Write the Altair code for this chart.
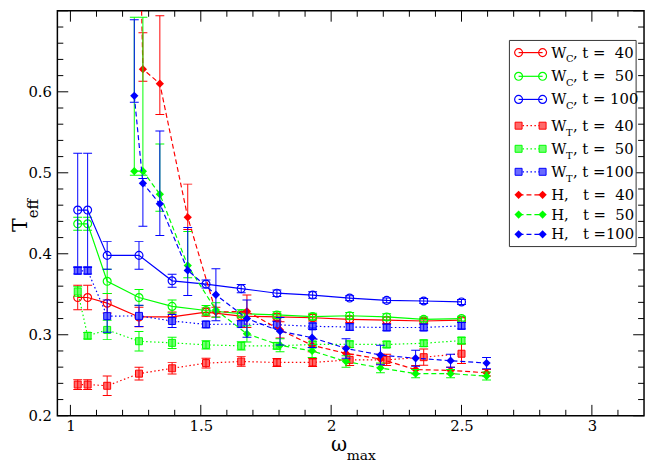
import altair as alt
import pandas as pd

# ---------------- data ----------------
omega_W = [1.028, 1.066, 1.141, 1.263, 1.390, 1.520, 1.655, 1.792, 1.929, 2.071, 2.213, 2.355, 2.500]
omega_H = [1.245, 1.278, 1.343, 1.450, 1.558, 1.677, 1.804, 1.927, 2.057, 2.189, 2.324, 2.458, 2.596]

WC_40 = [0.346, 0.346, 0.339, 0.322, 0.322, 0.328, 0.323, 0.322, 0.321, 0.319, 0.318, 0.317, 0.318]
WC_40_err = [0.015, 0.015, 0.012, 0.012, 0.006, 0.005, 0.005, 0.004, 0.004, 0.004, 0.004, 0.003, 0.003]
WC_50 = [0.437, 0.437, 0.366, 0.346, 0.335, 0.330, 0.326, 0.3245, 0.3225, 0.3235, 0.322, 0.319, 0.320]
WC_50_err = [0.008, 0.008, 0.015, 0.010, 0.008, 0.006, 0.005, 0.004, 0.004, 0.004, 0.004, 0.003, 0.003]
WC_100 = [0.454, 0.454, 0.398, 0.398, 0.3666, 0.3626, 0.357, 0.3513, 0.349, 0.3453, 0.3425, 0.3417, 0.3405]
WC_100_err = [0.070, 0.070, 0.017, 0.017, 0.008, 0.005, 0.005, 0.004, 0.004, 0.003, 0.003, 0.003, 0.003]

WT_40 = [0.2385, 0.2385, 0.237, 0.252, 0.2586, 0.265, 0.267, 0.2658, 0.2658, 0.269, 0.269, 0.2723, 0.2766]
WT_40_err = [0.006, 0.006, 0.012, 0.008, 0.007, 0.006, 0.006, 0.005, 0.005, 0.007, 0.007, 0.010, 0.012]
WT_50 = [0.3534, 0.2988, 0.306, 0.292, 0.290, 0.2875, 0.2863, 0.2863, 0.288, 0.2883, 0.288, 0.2895, 0.2928]
WT_50_err = [0.006, 0.004, 0.012, 0.012, 0.007, 0.005, 0.005, 0.004, 0.004, 0.004, 0.004, 0.004, 0.004]
WT_100 = [0.379, 0.379, 0.323, 0.3233, 0.317, 0.3128, 0.3132, 0.3124, 0.3104, 0.3096, 0.309, 0.309, 0.311]
WT_100_err = [0.004, 0.004, 0.020, 0.013, 0.008, 0.004, 0.004, 0.004, 0.004, 0.004, 0.004, 0.004, 0.004]

H_40 = [1.10, 0.628, 0.610, 0.445, 0.328, 0.329, 0.306, 0.287, 0.277, 0.270, 0.257, 0.256, 0.253]
H_40_up = [0.0, 0.045, 0.084, 0.041, 0.006, 0.020, 0.010, 0.008, 0.008, 0.006, 0.005, 0.004, 0.004]
H_40_dn = [0.0, 0.015, 0.038, 0.015, 0.006, 0.020, 0.010, 0.008, 0.008, 0.006, 0.005, 0.004, 0.004]
H_50 = [0.502, 0.502, 0.4735, 0.3855, 0.3305, 0.3012, 0.287, 0.280, 0.267, 0.259, 0.252, 0.252, 0.249]
H_50_up = [0.190, 0.190, 0.062, 0.042, 0.009, 0.010, 0.008, 0.008, 0.007, 0.006, 0.005, 0.005, 0.005]
H_50_dn = [0.005, 0.005, 0.021, 0.015, 0.009, 0.010, 0.008, 0.008, 0.007, 0.006, 0.005, 0.005, 0.005]
H_100 = [0.595, 0.487, 0.4617, 0.3795, 0.3494, 0.320, 0.3044, 0.2964, 0.2831, 0.275, 0.271, 0.268, 0.265]
H_100_up = [0.094, 0.006, 0.090, 0.053, 0.032, 0.023, 0.017, 0.012, 0.012, 0.012, 0.010, 0.008, 0.007]
H_100_dn = [0.008, 0.053, 0.039, 0.031, 0.032, 0.023, 0.017, 0.012, 0.012, 0.012, 0.010, 0.008, 0.007]

x_tick_labels = [1, 1.5, 2, 2.5, 3]
y_tick_labels = [0.2, 0.3, 0.4, 0.5, 0.6]
x_minor_ticks = [round(1.0 + 0.1 * i, 2) for i in range(22) if i % 5 != 0]
y_major_ticks = [0.2, 0.3, 0.4, 0.5, 0.6, 0.7]
y_minor_ticks = [round(0.2 + 0.02 * i, 3) for i in range(26) if i % 5 != 0]

legend_rows = [
    ("W", "C", ", t =\u00a0\u00a040", "WC", "red"),
    ("W", "C", ", t =\u00a0\u00a050", "WC", "green"),
    ("W", "C", ", t = 100", "WC", "blue"),
    ("W", "T", ", t =\u00a0\u00a040", "WT", "red"),
    ("W", "T", ", t =\u00a0\u00a050", "WT", "green"),
    ("W", "T", ", t =100", "WT", "blue"),
    ("H,\u00a0\u00a0\u00a0t =\u00a0\u00a040", "", "", "H", "red"),
    ("H,\u00a0\u00a0\u00a0t =\u00a0\u00a050", "", "", "H", "green"),
    ("H,\u00a0\u00a0\u00a0t =100", "", "", "H", "blue"),
]

# ---------------- styling ----------------
FONT = "DejaVu Serif"
COL = {"red": "#ff0000", "green": "#00ff00", "blue": "#0000ff"}
LIGHT = {"red": "#ff6a6a", "green": "#70ff70", "blue": "#6a6aff"}
W, H = 594, 410

XS = alt.Scale(domain=[0.95, 3.2], nice=False, zero=False)
YS = alt.Scale(domain=[0.2, 0.7], nice=False, zero=False)
XA = alt.Axis(values=x_tick_labels, format="~g", ticks=False, tickSize=0, domain=False,
              grid=False, labelFont=FONT, labelFontSize=15, labelColor="black",
              labelPadding=3, title=None)
YA = alt.Axis(values=y_tick_labels, format=".1f", ticks=False, tickSize=0, domain=False,
              grid=False, labelFont=FONT, labelFontSize=15, labelColor="black",
              labelPadding=6, title=None)


def X(f):
    return alt.X(f"{f}:Q", scale=XS, axis=XA)


def Y(f):
    return alt.Y(f"{f}:Q", scale=YS, axis=YA)


def line_kw(kind, c):
    kw = dict(color=COL[c], strokeWidth=1.2, clip=True)
    if kind == "WT":
        kw["strokeDash"] = [1.5, 2.5]
    elif kind == "H":
        kw["strokeDash"] = [5, 3]
    return kw


def point_kw(kind, c):
    if kind == "WC":
        return dict(shape="circle", filled=False, color=COL[c], size=64, strokeWidth=1.2, opacity=1)
    if kind == "WT":
        return dict(shape="square", filled=True, fill=LIGHT[c], stroke=COL[c], strokeWidth=1,
                    size=50, opacity=1, fillOpacity=1)
    return dict(shape="diamond", filled=True, color=COL[c], size=70, opacity=1)


series = [
    (omega_W, WC_40, WC_40_err, WC_40_err, "WC", "red"),
    (omega_W, WC_50, WC_50_err, WC_50_err, "WC", "green"),
    (omega_W, WC_100, WC_100_err, WC_100_err, "WC", "blue"),
    (omega_W, WT_40, WT_40_err, WT_40_err, "WT", "red"),
    (omega_W, WT_50, WT_50_err, WT_50_err, "WT", "green"),
    (omega_W, WT_100, WT_100_err, WT_100_err, "WT", "blue"),
    (omega_H, H_40, H_40_up, H_40_dn, "H", "red"),
    (omega_H, H_50, H_50_up, H_50_dn, "H", "green"),
    (omega_H, H_100, H_100_up, H_100_dn, "H", "blue"),
]

layers = []
for xs, ys, up, dn, kind, c in series:
    df = pd.DataFrame({
        "x": xs, "y": ys,
        "lo": [a - b for a, b in zip(ys, dn)],
        "hi": [a + b for a, b in zip(ys, up)],
    })
    base = alt.Chart(df)
    layers.append(base.mark_line(**line_kw(kind, c)).encode(x=X("x"), y=Y("y")))
    layers.append(base.mark_point(**point_kw(kind, c), clip=True).encode(x=X("x"), y=Y("y")))
    layers.append(base.mark_rule(color=COL[c], strokeWidth=1, clip=True)
                  .encode(x=X("x"), y=Y("lo"), y2=alt.Y2("hi")))
    for f in ("lo", "hi"):
        layers.append(base.mark_tick(color=COL[c], orient="horizontal", size=9, thickness=1,
                                     opacity=1, clip=True).encode(x=X("x"), y=Y(f)))

# ---------------- inward axis ticks on all four sides ----------------
for vals, L in ((x_tick_labels, 11), (x_minor_ticks, 6)):
    d = alt.Chart(pd.DataFrame({"v": vals}))
    layers.append(d.mark_rule(color="black", strokeWidth=1)
                  .encode(x=X("v"), y=alt.value(H), y2=alt.value(H - L)))
    layers.append(d.mark_rule(color="black", strokeWidth=1)
                  .encode(x=X("v"), y=alt.value(0), y2=alt.value(L)))
for vals, L in ((y_major_ticks, 11), (y_minor_ticks, 6)):
    d = alt.Chart(pd.DataFrame({"v": vals}))
    layers.append(d.mark_rule(color="black", strokeWidth=1)
                  .encode(y=Y("v"), x=alt.value(0), x2=alt.value(L)))
    layers.append(d.mark_rule(color="black", strokeWidth=1)
                  .encode(y=Y("v"), x=alt.value(W), x2=alt.value(W - L)))

# ---------------- legend ----------------
one = alt.Chart(pd.DataFrame({"k": [0]}))
layers.append(one.mark_rect(fill="white", stroke="#333333", strokeWidth=1)
              .encode(x=alt.value(457.7), x2=alt.value(586), y=alt.value(30), y2=alt.value(238.7)))
legend_y = [42.3, 66.3, 89.7, 116.3, 139.7, 163.0, 186.3, 206.3, 226.3]
sx0, sx1, tx = 467, 491.3, 500
for (main, sub, rest, kind, c), cy in zip(legend_rows, legend_y):
    layers.append(one.mark_rule(**{k: v for k, v in line_kw(kind, c).items() if k != "clip"})
                  .encode(x=alt.value(sx0), x2=alt.value(sx1), y=alt.value(cy)))
    for sx in (sx0, sx1):
        layers.append(one.mark_point(**point_kw(kind, c)).encode(x=alt.value(sx), y=alt.value(cy)))
    txt = dict(font=FONT, align="left", baseline="alphabetic", color="black")
    layers.append(one.mark_text(text=main, fontSize=15, **txt)
                  .encode(x=alt.value(tx), y=alt.value(cy + 5)))
    if sub:
        layers.append(one.mark_text(text=sub, fontSize=10, **txt)
                      .encode(x=alt.value(tx + 15), y=alt.value(cy + 10)))
        layers.append(one.mark_text(text=rest, fontSize=15, **txt)
                      .encode(x=alt.value(tx + 22), y=alt.value(cy + 5)))

# ---------------- axis titles with subscripts ----------------
ttl = dict(font=FONT, baseline="alphabetic", color="black", align="left")
layers.append(one.mark_text(text="T", fontSize=21, angle=270, **ttl)
              .encode(x=alt.value(-31), y=alt.value(224)))
layers.append(one.mark_text(text="eff", fontSize=15, angle=270, **ttl)
              .encode(x=alt.value(-20), y=alt.value(210)))
layers.append(one.mark_text(text="ω", fontSize=20, **ttl)
              .encode(x=alt.value(277), y=alt.value(446)))
layers.append(one.mark_text(text="max", fontSize=14, **ttl)
              .encode(x=alt.value(293), y=alt.value(455)))

chart = (
    alt.layer(*layers)
    .properties(width=W, height=H, autosize=alt.AutoSizeParams(type="none"),
                padding={"left": 50, "top": 0, "right": 2, "bottom": 46},
                background="white")
    .configure_view(stroke="black", strokeWidth=1.5)
)

chart.save("out.html", embed_options={"renderer": "svg", "actions": False})
